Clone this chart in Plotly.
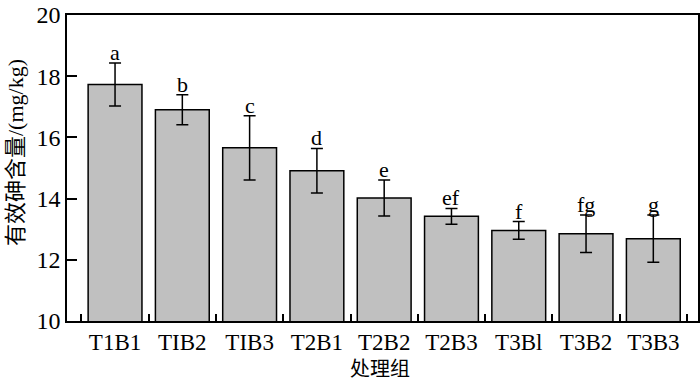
import plotly.graph_objects as go

categories = ["T1B1", "TIB2", "TIB3", "T2B1", "T2B2", "T2B3", "T3Bl", "T3B2", "T3B3"]
means = [17.73, 16.90, 15.66, 14.91, 14.02, 13.42, 12.96, 12.85, 12.69]
errors = [0.70, 0.49, 1.05, 0.73, 0.59, 0.26, 0.29, 0.61, 0.77]
letters = ["a", "b", "c", "d", "e", "ef", "f", "fg", "g"]

FONT = "Liberation Serif, Noto Sans CJK SC"
xs = list(range(len(categories)))

fig = go.Figure()
fig.add_trace(go.Bar(
    x=xs, y=means, width=0.8,
    marker=dict(color="#c0c0c0", line=dict(color="black", width=1.5)),
    error_y=dict(type="data", array=errors, visible=True, color="black",
                 thickness=1.5, width=6),
    showlegend=False,
))

for x, m, e, t in zip(xs, means, errors, letters):
    fig.add_annotation(x=x, y=m + e, text=t, showarrow=False, yanchor="bottom",
                       yshift=-4, font=dict(family=FONT, size=22, color="black"))

fig.add_annotation(xref="paper", yref="paper", x=0.496, y=-0.152, text="处理组",
                   showarrow=False, xanchor="center", yanchor="middle",
                   font=dict(family="Noto Sans CJK SC", size=20, color="black"))
fig.add_annotation(xref="paper", yref="paper", x=-0.0824, y=0.549,
                   text="有效砷含量/(mg/kg)", textangle=-90,
                   showarrow=False, xanchor="center", yanchor="middle",
                   font=dict(family=FONT, size=22, color="black"))

fig.update_layout(
    width=700, height=383,
    margin=dict(l=67, r=2, t=15, b=62),
    plot_bgcolor="white", paper_bgcolor="white",
    font=dict(family=FONT, color="black"),
    bargap=0.2,
)
fig.update_xaxes(
    range=[-0.714, 8.664], tickvals=xs, ticktext=categories, ticks="",
    tickfont=dict(size=23), showline=True, linecolor="black", linewidth=1.5,
    mirror=True, showgrid=False, zeroline=False, automargin=False,
    minor=dict(tickmode="linear", tick0=-0.5, dtick=1, ticks="inside",
               ticklen=7, tickwidth=1.5, tickcolor="black", showgrid=False),
)
fig.update_yaxes(
    range=[10, 20], tickvals=[10, 12, 14, 16, 18, 20], ticks="inside",
    ticklen=10, tickwidth=1.5, tickcolor="black", tickfont=dict(size=24),
    showline=True, linecolor="black", linewidth=1.5, mirror=True,
    showgrid=False, zeroline=False, automargin=False,
)

fig.write_html("out.html", config={"displayModeBar": False},
               post_script="document.body.style.margin='0';document.body.style.overflow='hidden';")
